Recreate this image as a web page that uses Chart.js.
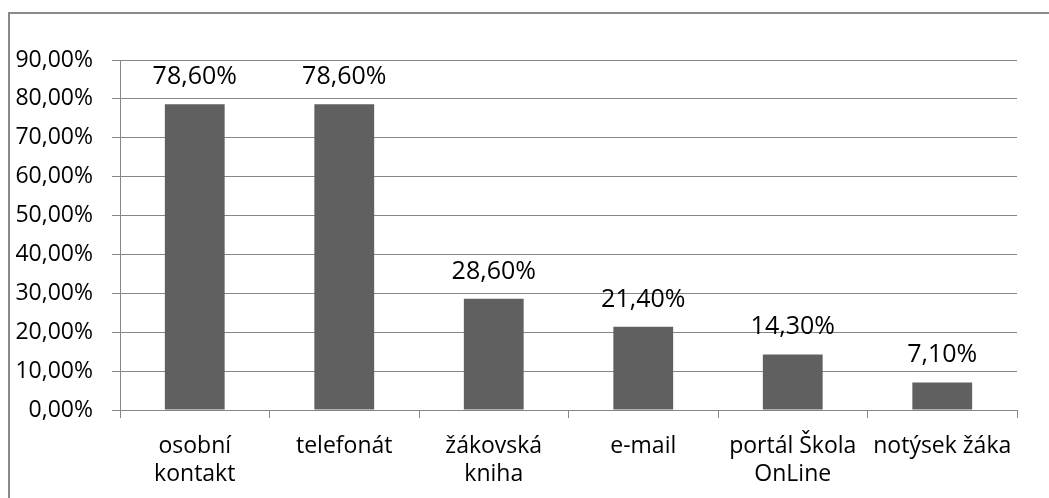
<!DOCTYPE html>
<html>
<head>
<meta charset="utf-8">
<script src="https://cdn.jsdelivr.net/npm/chart.js@4"></script>
<style>
  html, body { margin: 0; padding: 0; background: #fff; overflow: hidden; }
  #frame { position: absolute; left: 8px; top: 12px; width: 1100px; height: 600px; border: 2px solid #8a8a8a; }
  #myChart { position: absolute; left: 0; top: 0; }
</style>
</head>
<body>
<div id="frame"></div>
<canvas id="myChart" width="1049" height="498"></canvas>
<script>
// chart data
var categories = [['osobní', 'kontakt'], 'telefonát', ['žákovská', 'kniha'], 'e-mail', ['portál Škola', 'OnLine'], 'notýsek žáka'];
var values = [78.6, 78.6, 28.6, 21.4, 14.3, 7.1];
var yMax = 90;
var yStep = 10;

function fmt(v) {
    return v.toFixed(2).replace('.', ',') + '%';
}

// labels above the bars
var valueLabels = {
    id: 'valueLabels',
    afterDatasetsDraw: function(chart) {
        var ctx = chart.ctx;
        var meta = chart.getDatasetMeta(0);
        ctx.save();
        ctx.font = '25px "Open Sans"';
        ctx.fillStyle = '#000';
        ctx.textAlign = 'center';
        ctx.textBaseline = 'alphabetic';
        meta.data.forEach(function(bar, i) {
            ctx.fillText(fmt(values[i]), bar.x, bar.y - 20);
        });
        ctx.restore();
    }
};

var ctx = document.getElementById('myChart').getContext('2d');
var myChart = new Chart(ctx, {
    type: 'bar',
    data: {
        labels: categories,
        datasets: [{
            data: values,
            backgroundColor: '#606060',
            borderWidth: 0,
            categoryPercentage: 1,
            barPercentage: 0.4
        }]
    },
    options: {
        responsive: false,
        animation: false,
        layout: { padding: { left: 0, right: 32, top: 60, bottom: 0 } },
        plugins: {
            legend: { display: false },
            tooltip: { enabled: false }
        },
        scales: {
            x: {
                grid: { drawOnChartArea: false, drawTicks: true, tickLength: 8, color: '#868686', offset: true },
                border: { display: true, color: '#868686' },
                ticks: {
                    color: '#000',
                    font: { family: 'Open Sans', size: 23, lineHeight: 1.24 },
                    maxRotation: 0,
                    autoSkip: false,
                    padding: 14
                },
                afterFit: function(s) { s.height = 88; }
            },
            y: {
                min: 0,
                max: yMax,
                grid: { color: '#868686', tickLength: 8 },
                border: { display: true, color: '#868686' },
                ticks: {
                    stepSize: yStep,
                    color: '#000',
                    font: { family: 'Open Sans', size: 23 },
                    padding: 19,
                    callback: function(v) { return fmt(v); }
                },
                afterFit: function(s) { s.width = 120; }
            }
        }
    },
    plugins: [valueLabels]
});
</script>
</body>
</html>
